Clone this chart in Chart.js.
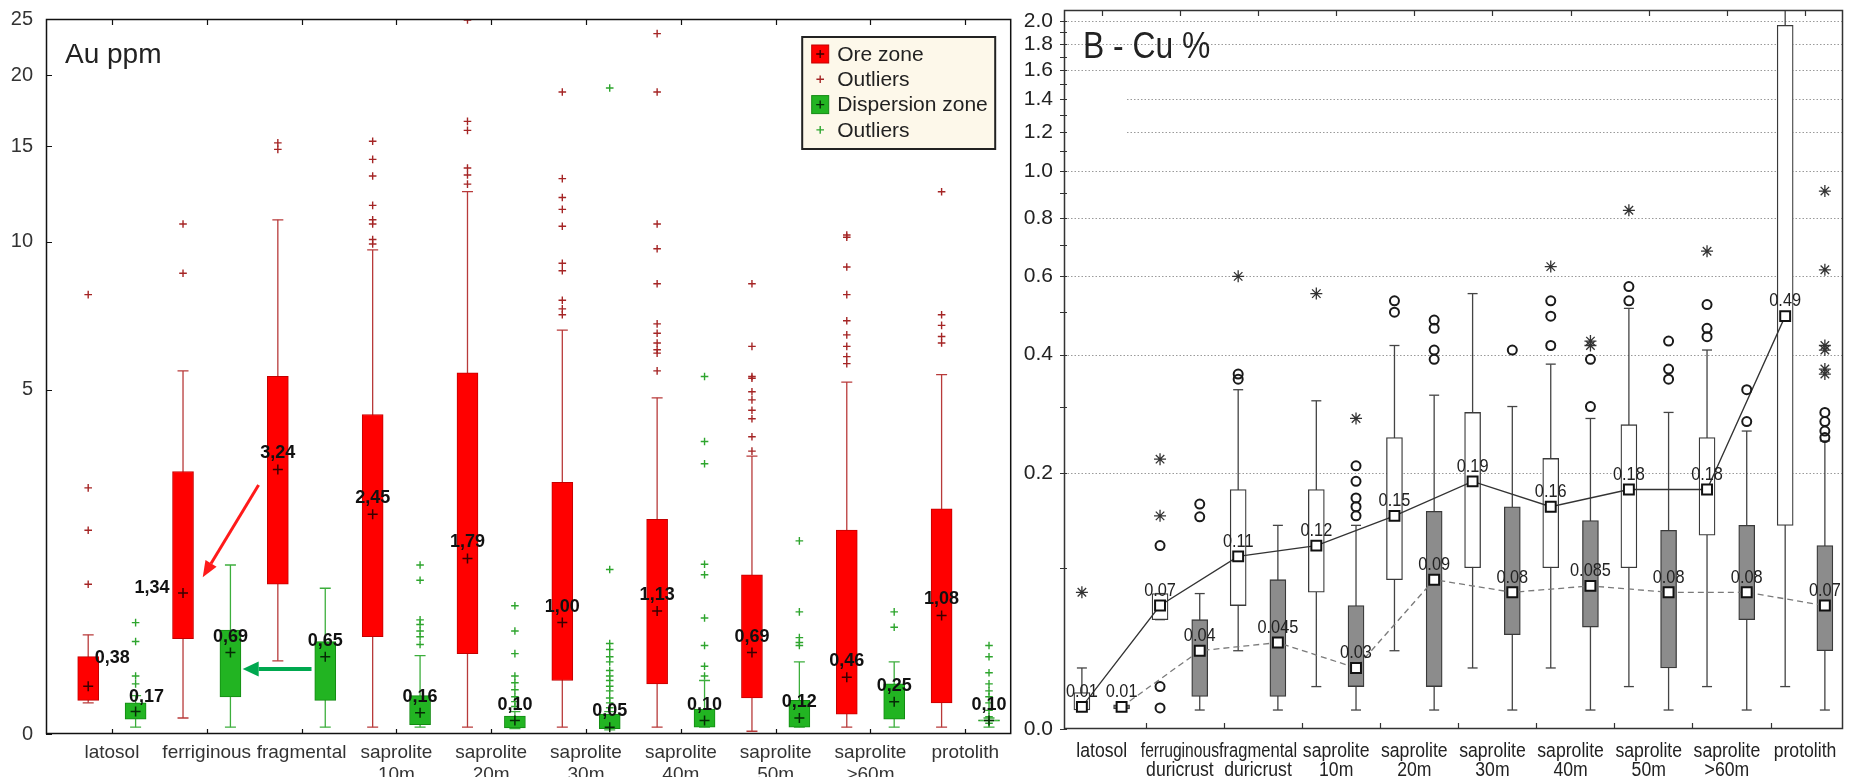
<!DOCTYPE html>
<html>
<head>
<meta charset="utf-8">
<title>Au ppm / B - Cu %</title>
<script src="https://cdn.jsdelivr.net/npm/chart.js@4.4.1/dist/chart.umd.min.js"></script>
<style>
  html, body { margin: 0; padding: 0; background: #ffffff; }
  #stage { position: relative; width: 1852px; height: 777px; overflow: hidden; background: #ffffff; }
  #left { position: absolute; left: 0; top: 0; }
  #right { position: absolute; left: 1018px; top: 0; }
</style>
</head>
<body>
<div id="stage">
  <canvas id="left" width="1018" height="777"></canvas>
  <canvas id="right" width="834" height="777"></canvas>
</div>
<script>
// ---------------- Panel A : Au ppm ----------------
const auCategories = [['latosol'], ['ferriginous'], ['fragmental'], ['saprolite', '10m'], ['saprolite', '20m'],
  ['saprolite', '30m'], ['saprolite', '40m'], ['saprolite', '50m'], ['saprolite', '>60m'], ['protolith']];
const auTickValues = [0, 5, 10, 15, 20, 25];
const auLegendLabels = ['Ore zone', 'Outliers', 'Dispersion zone', 'Outliers'];

const auOreMin    = [0.24, 0.12, 0.61, 0.05, 0.05, 0.05, 0.05, 0.02, 0.05, 0.05];
const auOreQ1     = [0.26, 0.83, 1.45, 0.85, 0.68, 0.43, 0.40, 0.28, 0.15, 0.24];
const auOreMedian = [0.38, 1.34, 3.24, 2.45, 1.79, 1.00, 1.13, 0.69, 0.46, 1.08];
const auOreQ3     = [0.65, 3.20, 5.35, 4.40, 5.45, 3.00, 2.37, 1.57, 2.20, 2.54];
const auOreMax    = [0.87, 5.50, 11.0, 9.65, 12.4, 6.70, 4.80, 3.50, 5.20, 5.40];
const auOreOutliers = [
  [1.45, 2.2, 2.9, 7.9],
  [8.7, 10.8],
  [14.8, 15.2],
  [9.9, 10.1, 10.8, 11.0, 11.7, 13.25, 14.2, 15.3],
  [12.8, 13.3, 13.7, 16.0, 16.6, 24.9],
  [7.2, 7.4, 7.7, 8.8, 9.1, 10.7, 11.5, 12.1, 13.1, 18.7],
  [5.5, 6.0, 6.1, 6.3, 6.6, 6.9, 8.3, 9.7, 10.8, 18.7, 23.6],
  [3.6, 3.9, 4.3, 4.5, 4.75, 4.95, 5.3, 5.35, 6.2, 8.3],
  [5.7, 5.9, 6.2, 6.55, 7.0, 7.9, 8.95, 10.2, 10.3],
  [6.3, 6.5, 6.85, 7.2, 12.4]
];

const auDispMin    = [0.05, 0.05, 0.05, 0.05, 0.04, 0.03, 0.05, 0.05, 0.05, 0.05];
const auDispQ1     = [0.11, 0.29, 0.26, 0.07, 0.045, 0.04, 0.05, 0.05, 0.11, 0.095];
const auDispMedian = [0.17, 0.69, 0.65, 0.16, 0.10, 0.05, 0.10, 0.12, 0.25, 0.10];
const auDispQ3     = [0.24, 0.92, 0.80, 0.30, 0.135, 0.15, 0.19, 0.26, 0.40, 0.105];
const auDispMax    = [0.30, 1.70, 1.40, 0.66, 0.17, 0.17, 0.43, 0.60, 0.60, 0.12];
const auDispOutliers = [
  [0.40, 0.47, 0.80, 1.0],
  [],
  [],
  [0.77, 0.85, 0.91, 0.98, 1.03, 1.50, 1.70],
  [0.21, 0.25, 0.29, 0.35, 0.41, 0.47, 0.68, 0.91, 1.19],
  [0.20, 0.24, 0.28, 0.34, 0.38, 0.43, 0.47, 0.52, 0.60, 0.65, 0.72, 0.78, 1.64, 19.0],
  [0.47, 0.56, 0.76, 1.05, 1.57, 1.71, 3.35, 3.8, 5.35],
  [0.76, 0.79, 0.84, 1.12, 2.04],
  [0.95, 1.12],
  [0.08, 0.13, 0.18, 0.24, 0.29, 0.34, 0.40, 0.50, 0.65, 0.76]
];

// ---------------- Panel B : Cu % ----------------
const cuCategories = [['latosol'], ['ferruginous', 'duricrust'], ['fragmental', 'duricrust'], ['saprolite', '10m'],
  ['saprolite', '20m'], ['saprolite', '30m'], ['saprolite', '40m'], ['saprolite', '50m'], ['saprolite', '>60m'], ['protolith']];
const cuTickValues = [0.0, 0.1, 0.2, 0.3, 0.4, 0.5, 0.6, 0.7, 0.8, 0.9, 1.0, 1.1, 1.2, 1.3, 1.4, 1.5, 1.6, 1.7, 1.8, 1.9, 2.0];

const cuOreMin    = [0.0085, 0.060, 0.040, 0.020, 0.040, 0.030, 0.030, 0.020, 0.020, 0.020];
const cuOreQ1     = [0.0085, 0.060, 0.070, 0.080, 0.090, 0.100, 0.100, 0.100, 0.130, 0.140];
const cuOreMedian = [0.01, 0.07, 0.11, 0.12, 0.15, 0.19, 0.16, 0.18, 0.18, 0.49];
const cuOreQ3     = [0.017, 0.079, 0.18, 0.18, 0.25, 0.29, 0.22, 0.27, 0.25, 1.96];
const cuOreMax    = [0.030, 0.079, 0.33, 0.31, 0.42, 0.55, 0.38, 0.51, 0.41, 2.5];
const cuOreOutliers = [[], [0.0095, 0.020, 0.12], [0.35, 0.36], [], [0.50, 0.53], [], [0.42, 0.49, 0.53], [0.53, 0.57], [0.44, 0.46, 0.52], []];
const cuOreExtremes = [[0.080], [0.150, 0.219], [0.60], [0.55], [], [], [0.63], [0.83], [0.68], []];

const cuDispMin    = [0.009, 0.0085, 0.0085, 0.0085, 0.0085, 0.0085, 0.0085, 0.0085, 0.0085, 0.0085];
const cuDispQ1     = [0.009, 0.015, 0.015, 0.020, 0.020, 0.050, 0.055, 0.030, 0.060, 0.040];
const cuDispMedian = [0.01, 0.04, 0.045, 0.03, 0.09, 0.08, 0.085, 0.08, 0.08, 0.07];
const cuDispQ3     = [0.011, 0.060, 0.090, 0.070, 0.155, 0.16, 0.145, 0.135, 0.14, 0.12];
const cuDispMax    = [0.011, 0.079, 0.14, 0.14, 0.32, 0.30, 0.28, 0.29, 0.26, 0.245];
const cuDispOutliers = [[], [0.149, 0.163], [], [0.15, 0.16, 0.17, 0.19, 0.21], [0.39, 0.41, 0.46, 0.48], [0.41], [0.30, 0.39], [0.35, 0.37, 0.43], [0.275, 0.33], [0.25, 0.26, 0.275, 0.29]];
const cuDispExtremes = [[], [], [], [0.28], [], [], [0.42, 0.43], [], [], [0.36, 0.37, 0.41, 0.42, 0.62, 0.91]];

// ---------------- fonts ----------------
const SANS = "'Liberation Sans', Arial, sans-serif";
Chart.defaults.font.family = SANS;
const SQUEEZE = 0.86;   // panel B text is horizontally condensed

// ---------------- offset-log scale: position ~ ln(1 + v / c) ----------------
function makeOffsetLogScale(id, c) {
  return class extends Chart.LinearScale {
    static id = id;
    static defaults = {};
    _t(v) { return Math.log(1 + v / c); }
    getPixelForValue(value) {
      if (value === null || value === undefined || isNaN(value)) return NaN;
      const a = this._t(this.min), b = this._t(this.max);
      return this.getPixelForDecimal((this._t(value) - a) / (b - a));
    }
    getValueForPixel(pixel) {
      const a = this._t(this.min), b = this._t(this.max);
      const t = a + this.getDecimalForPixel(pixel) * (b - a);
      return (Math.exp(t) - 1) * c;
    }
  };
}
Chart.register(makeOffsetLogScale('auScale', 2), makeOffsetLogScale('cuScale', 0.1));

function fixSize(prop, size) {
  return s => {
    s[prop] = size;
    s.paddingTop = 0; s.paddingBottom = 0; s.paddingLeft = 0; s.paddingRight = 0;
  };
}

// ---------------- dataset builders ----------------
function boxDatasets(n, offset, mins, q1s, q3s, maxs, st) {
  const xs = Array.from({length: n}, (_, i) => i + offset);
  const whisk = [], caps = [];
  xs.forEach((x, i) => {
    whisk.push({x, y: mins[i]}, {x, y: maxs[i]}, {x, y: null});
    caps.push({x, y: mins[i]}, {x, y: maxs[i]});
  });
  return [
    {type: 'bar', label: st.label, data: xs.map((x, i) => ({x, y: [q1s[i], q3s[i]]})),
     backgroundColor: st.fill, borderColor: st.border, borderWidth: st.boxBorder,
     borderSkipped: false, barThickness: st.width, grouped: false, order: 5},
    {type: 'line', data: whisk, borderColor: st.whisker, borderWidth: st.whiskerWidth,
     pointRadius: 0, spanGaps: false, order: 8},
    {type: 'line', data: caps, showLine: false, pointStyle: 'line', pointRadius: st.capRadius,
     pointBorderColor: st.whisker, pointBorderWidth: st.whiskerWidth, order: 7}
  ];
}
function pointsDataset(n, offset, values, style, order) {
  const data = [];
  for (let i = 0; i < n; i++) {
    const list = Array.isArray(values[i]) ? values[i] : [values[i]];
    list.forEach(v => data.push({x: i + offset, y: v}));
  }
  return Object.assign({type: 'line', data, showLine: false, order}, style);
}

// ---------------- Panel A chart ----------------
const AU_OFF = {ore: -0.25, disp: 0.25};
const auStyle = {
  ore:  {label: auLegendLabels[0], fill: '#ff0000', border: '#c40000', boxBorder: 1, width: 21, whisker: '#b83a3a', whiskerWidth: 1.3, capRadius: 5.5, outlier: '#a52525', median: '#3a0000'},
  disp: {label: auLegendLabels[2], fill: '#22b422', border: '#138a13', boxBorder: 1, width: 21, whisker: '#3cae3c', whiskerWidth: 1.3, capRadius: 5.5, outlier: '#2ea52e', median: '#062a06'}
};
const nAu = auCategories.length;
const auDatasets = [
  ...boxDatasets(nAu, AU_OFF.ore, auOreMin, auOreQ1, auOreQ3, auOreMax, auStyle.ore),
  ...boxDatasets(nAu, AU_OFF.disp, auDispMin, auDispQ1, auDispQ3, auDispMax, auStyle.disp),
  pointsDataset(nAu, AU_OFF.ore, auOreOutliers, {pointStyle: 'cross', pointRadius: 3.8, pointBorderWidth: 1.4, pointBorderColor: auStyle.ore.outlier}, 2),
  pointsDataset(nAu, AU_OFF.disp, auDispOutliers, {pointStyle: 'cross', pointRadius: 3.8, pointBorderWidth: 1.4, pointBorderColor: auStyle.disp.outlier}, 2),
  pointsDataset(nAu, AU_OFF.ore, auOreMedian, {pointStyle: 'cross', pointRadius: 5, pointBorderWidth: 1.5, pointBorderColor: auStyle.ore.median}, 1),
  pointsDataset(nAu, AU_OFF.disp, auDispMedian, {pointStyle: 'cross', pointRadius: 5, pointBorderWidth: 1.5, pointBorderColor: auStyle.disp.median}, 1)
];

function drawArrow(ctx, x1, y1, x2, y2, color, width, headLen, headW) {
  const ang = Math.atan2(y2 - y1, x2 - x1);
  const bx = x2 - headLen * Math.cos(ang), by = y2 - headLen * Math.sin(ang);
  ctx.strokeStyle = color; ctx.lineWidth = width; ctx.lineCap = 'butt';
  ctx.beginPath(); ctx.moveTo(x1, y1); ctx.lineTo(bx, by); ctx.stroke();
  ctx.fillStyle = color; ctx.beginPath(); ctx.moveTo(x2, y2);
  ctx.lineTo(bx + headW / 2 * Math.sin(ang), by - headW / 2 * Math.cos(ang));
  ctx.lineTo(bx - headW / 2 * Math.sin(ang), by + headW / 2 * Math.cos(ang));
  ctx.closePath(); ctx.fill();
}
function drawPlus(ctx, cx, cy, r, color, w) {
  ctx.strokeStyle = color; ctx.lineWidth = w;
  ctx.beginPath(); ctx.moveTo(cx - r, cy); ctx.lineTo(cx + r, cy); ctx.moveTo(cx, cy - r); ctx.lineTo(cx, cy + r); ctx.stroke();
}
function squeezedText(ctx, text, x, y, align, sx, maxWidth) {
  ctx.save(); ctx.translate(x, y); ctx.scale(sx, 1); ctx.textAlign = align;
  if (maxWidth) ctx.fillText(text, 0, 0, maxWidth / sx); else ctx.fillText(text, 0, 0);
  ctx.restore();
}

const leftDecor = {
  id: 'leftDecor',
  afterDatasetsDraw(chart) {
    const {ctx, chartArea: a, scales: {x, y}} = chart;
    ctx.save();
    ctx.strokeStyle = '#111'; ctx.lineWidth = 1.5;
    ctx.strokeRect(a.left + 0.5, a.top + 0.5, a.right - a.left - 1, a.bottom - a.top - 1);
    ctx.lineWidth = 1.2;
    ctx.beginPath();
    auTickValues.forEach(v => { const py = Math.round(y.getPixelForValue(v)) + 0.5; ctx.moveTo(a.left, py); ctx.lineTo(a.left + 6, py); });
    for (let i = 0; i < nAu; i++) {
      const px = Math.round(x.getPixelForValue(i)) + 0.5;
      ctx.moveTo(px, a.bottom); ctx.lineTo(px, a.bottom - 5);
      ctx.moveTo(px, a.top); ctx.lineTo(px, a.top + 6);
    }
    ctx.stroke();
    const nudge = {'ore-0': [24, -28], 'disp-0': [11, -15], 'ore-1': [-31, -5]};
    ctx.font = 'bold 18px ' + SANS; ctx.fillStyle = '#111';
    ctx.textAlign = 'center'; ctx.textBaseline = 'middle';
    [['ore', AU_OFF.ore, auOreMedian], ['disp', AU_OFF.disp, auDispMedian]].forEach(([key, off, meds]) => {
      meds.forEach((m, i) => {
        const d = nudge[key + '-' + i] || [0, -16];
        ctx.fillText(m.toFixed(2).replace('.', ','), x.getPixelForValue(i + off) + d[0], y.getPixelForValue(m) + d[1]);
      });
    });
    ctx.textAlign = 'left'; ctx.textBaseline = 'alphabetic';
    ctx.font = '28px ' + SANS; ctx.fillStyle = '#222';
    ctx.fillText('Au ppm', a.left + 19, a.top + 44);
    const lx = a.right - 209, ly = a.top + 18, lw = 193, lh = 112;
    ctx.fillStyle = '#fdf8ea'; ctx.fillRect(lx, ly, lw, lh);
    ctx.strokeStyle = '#222'; ctx.lineWidth = 2; ctx.strokeRect(lx, ly, lw, lh);
    const rows = [
      {kind: 'box', st: auStyle.ore}, {kind: 'plus', st: auStyle.ore},
      {kind: 'box', st: auStyle.disp}, {kind: 'plus', st: auStyle.disp}
    ];
    ctx.font = '21px ' + SANS; ctx.textBaseline = 'middle';
    rows.forEach((r, k) => {
      const cy = ly + 17 + k * 25.3, cx = lx + 18;
      if (r.kind === 'box') {
        ctx.fillStyle = r.st.fill; ctx.fillRect(cx - 8.5, cy - 9, 17, 18);
        ctx.strokeStyle = r.st.border; ctx.lineWidth = 1; ctx.strokeRect(cx - 8.5, cy - 9, 17, 18);
        drawPlus(ctx, cx, cy, 4, r.st.median, 1.4);
      } else {
        drawPlus(ctx, cx, cy, 3.8, r.st.outlier, 1.4);
      }
      ctx.fillStyle = '#222';
      ctx.fillText(auLegendLabels[k], lx + 35, cy + 1);
    });
    const px = v => x.getPixelForValue(v), py = v => y.getPixelForValue(v);
    drawArrow(ctx, px(1.547), py(2.95), px(0.958), py(1.54), '#ff1a1a', 3, 16, 13);
    drawArrow(ctx, px(2.105), py(0.534), px(1.379), py(0.534), '#00a84f', 4, 16, 15);
    ctx.restore();
  }
};

new Chart(document.getElementById('left'), {
  type: 'bar',
  data: {datasets: auDatasets},
  options: {
    responsive: false, animation: false, devicePixelRatio: 1, events: [],
    layout: {padding: {left: 0, right: 5, top: 19, bottom: 0}},
    plugins: {legend: {display: false}, tooltip: {enabled: false}},
    scales: {
      x: {
        type: 'linear', min: -0.695, max: 9.484, bounds: 'data', offset: false,
        grid: {display: false, drawTicks: false}, border: {display: false},
        afterBuildTicks: s => { s.ticks = auCategories.map((_, i) => ({value: i})); },
        afterFit: fixSize('height', 43),
        ticks: {autoSkip: false, maxRotation: 0, minRotation: 0, padding: 8, color: '#333',
                font: {family: SANS, size: 19, lineHeight: 1.15},
                callback: v => auCategories[Math.round(v)]}
      },
      y: {
        type: 'auScale', min: 0, max: 25, bounds: 'data',
        grid: {display: false, drawTicks: false}, border: {display: false},
        afterBuildTicks: s => { s.ticks = auTickValues.map(v => ({value: v})); },
        afterFit: fixSize('width', 46),
        ticks: {autoSkip: false, padding: 13, color: '#333', font: {family: SANS, size: 20},
                callback: v => String(v)}
      }
    }
  },
  plugins: [leftDecor]
});

// ---------------- Panel B chart ----------------
const CU_OFF = {ore: -0.254, disp: 0.254};
const cuStyle = {
  ore:  {label: 'Ore zone', fill: '#ffffff', border: '#3a3a3a', boxBorder: 1.3, width: 16, whisker: '#444', whiskerWidth: 1.3, capRadius: 5},
  disp: {label: 'Dispersion zone', fill: '#8c8c8c', border: '#3a3a3a', boxBorder: 1.3, width: 16, whisker: '#444', whiskerWidth: 1.3, capRadius: 5}
};
const nCu = cuCategories.length;
const circleStyle = {pointStyle: 'circle', pointRadius: 4.5, pointBorderWidth: 2, pointBorderColor: '#1a1a1a', pointBackgroundColor: 'rgba(0,0,0,0)'};
const starStyle = {pointStyle: 'star', pointRadius: 6, pointBorderWidth: 1.3, pointBorderColor: '#333'};
const squareStyle = {pointStyle: 'rect', pointRadius: 7, pointBorderWidth: 2, pointBorderColor: '#111', pointBackgroundColor: '#ffffff'};
const cuDatasets = [
  ...boxDatasets(nCu, CU_OFF.ore, cuOreMin, cuOreQ1, cuOreQ3, cuOreMax, cuStyle.ore),
  ...boxDatasets(nCu, CU_OFF.disp, cuDispMin, cuDispQ1, cuDispQ3, cuDispMax, cuStyle.disp),
  {type: 'line', data: cuOreMedian.map((m, i) => ({x: i + CU_OFF.ore, y: m})), borderColor: '#333', borderWidth: 1.3, pointRadius: 0, order: 3},
  {type: 'line', data: cuDispMedian.map((m, i) => ({x: i + CU_OFF.disp, y: m})), borderColor: '#7a7a7a', borderWidth: 1.3, borderDash: [6, 4], pointRadius: 0, order: 3},
  pointsDataset(nCu, CU_OFF.ore, cuOreOutliers, circleStyle, 2),
  pointsDataset(nCu, CU_OFF.disp, cuDispOutliers, circleStyle, 2),
  pointsDataset(nCu, CU_OFF.ore, cuOreExtremes, starStyle, 2),
  pointsDataset(nCu, CU_OFF.disp, cuDispExtremes, starStyle, 2),
  pointsDataset(nCu, CU_OFF.ore, cuOreMedian, squareStyle, 1),
  pointsDataset(nCu, CU_OFF.disp, cuDispMedian, squareStyle, 1)
];

const rightDecor = {
  id: 'rightDecor',
  beforeDatasetsDraw(chart) {
    const {ctx, chartArea: a, scales: {y}} = chart;
    ctx.save();
    ctx.strokeStyle = '#9a9a9a'; ctx.lineWidth = 1; ctx.setLineDash([1.5, 2]);
    cuTickValues.filter(v => Math.round(v * 10) % 2 === 0 && v > 0).forEach(v => {
      const py = Math.round(y.getPixelForValue(v)) + 0.5;
      ctx.beginPath(); ctx.moveTo(a.left, py); ctx.lineTo(a.right, py); ctx.stroke();
    });
    ctx.setLineDash([]);
    const m1 = y.getPixelForValue(1.5), m2 = y.getPixelForValue(1.1);
    ctx.fillStyle = '#ffffff'; ctx.fillRect(a.left + 1, m1, 60, m2 - m1);
    ctx.restore();
  },
  afterDatasetsDraw(chart) {
    const {ctx, chartArea: a, scales: {x, y}} = chart;
    ctx.save();
    ctx.strokeStyle = '#333'; ctx.lineWidth = 1.5;
    ctx.strokeRect(a.left + 0.5, a.top + 0.5, a.right - a.left - 1, a.bottom - a.top - 1);
    ctx.lineWidth = 1.2; ctx.beginPath();
    cuTickValues.forEach(v => { const py = Math.round(y.getPixelForValue(v)) + 0.5; ctx.moveTo(a.left - 4, py); ctx.lineTo(a.left + 3, py); });
    for (let i = 0; i < nCu; i++) {
      const pt = Math.round(x.getPixelForValue(i)) + 0.5;
      ctx.moveTo(pt, a.top); ctx.lineTo(pt, a.top + 6);
      if (i < nCu - 1) {
        const pb = Math.round(x.getPixelForValue(i + 0.56)) + 0.5;
        ctx.moveTo(pb, a.bottom); ctx.lineTo(pb, a.bottom - 6);
      }
    }
    ctx.stroke();
    ctx.fillStyle = '#222'; ctx.textBaseline = 'middle';
    // y tick labels
    ctx.font = '21px ' + SANS;
    cuTickValues.forEach(v => {
      if (Math.round(v * 10) % 2 === 0) squeezedText(ctx, v.toFixed(1), a.left - 11, y.getPixelForValue(v), 'right', 1);
    });
    // x category labels
    const catW = x.getPixelForValue(1) - x.getPixelForValue(0);
    ctx.font = '20.5px ' + SANS;
    cuCategories.forEach((lines, i) => {
      lines.forEach((t, k) => squeezedText(ctx, t, x.getPixelForValue(i), a.bottom + 22 + k * 19, 'center', SQUEEZE, catW));
    });
    // median labels
    ctx.font = '19px ' + SANS;
    [[CU_OFF.ore, cuOreMedian], [CU_OFF.disp, cuDispMedian]].forEach(([off, meds]) => {
      meds.forEach((m, i) => squeezedText(ctx, String(m), x.getPixelForValue(i + off), y.getPixelForValue(m) - 15, 'center', SQUEEZE));
    });
    ctx.textBaseline = 'alphabetic';
    ctx.font = '37px ' + SANS;
    squeezedText(ctx, 'B - Cu %', a.left + 19, a.top + 48, 'left', SQUEEZE);
    ctx.restore();
  }
};

new Chart(document.getElementById('right'), {
  type: 'bar',
  data: {datasets: cuDatasets},
  options: {
    responsive: false, animation: false, devicePixelRatio: 1, events: [],
    layout: {padding: {left: 0, right: 3, top: 10, bottom: 0}},
    plugins: {legend: {display: false}, tooltip: {enabled: false}},
    scales: {
      x: {
        type: 'linear', min: -0.483, max: 9.486, bounds: 'data', offset: false,
        grid: {display: false, drawTicks: false}, border: {display: false},
        afterBuildTicks: s => { s.ticks = cuCategories.map((_, i) => ({value: i})); },
        afterFit: fixSize('height', 48),
        ticks: {display: false, autoSkip: false, maxRotation: 0, minRotation: 0,
                callback: v => cuCategories[Math.round(v)]}
      },
      y: {
        type: 'cuScale', min: 0, max: 2.1, bounds: 'data',
        grid: {display: false, drawTicks: false}, border: {display: false},
        afterBuildTicks: s => { s.ticks = cuTickValues.map(v => ({value: v})); },
        afterFit: fixSize('width', 46),
        ticks: {display: false, autoSkip: false,
                callback: v => (Math.round(v * 10) % 2 === 0 ? v.toFixed(1) : '')}
      }
    }
  },
  plugins: [rightDecor]
});
</script>
</body>
</html>
